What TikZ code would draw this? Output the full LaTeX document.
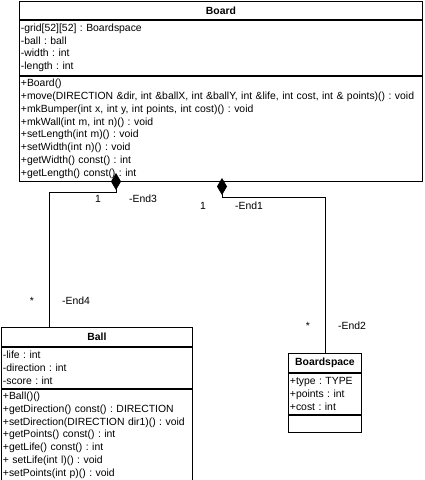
\documentclass[tikz,border=0pt]{standalone}
\usepackage{fontspec}
\setmainfont{Liberation Sans}
\usepackage{tikz}
\usetikzlibrary{arrows.meta, positioning}
\frenchspacing

\begin{document}
\begin{tikzpicture}[
	x=1pt, y=-1pt,
	node distance=0pt,
	font=\fontsize{10.4}{12.8}\selectfont,
	classtitle/.style={rectangle, draw, line width=0.9pt, anchor=north west, inner sep=0pt, font=\fontsize{10.4}{12.8}\selectfont\bfseries},
	classpart/.style={rectangle, draw, line width=0.9pt, align=left, inner xsep=1.2pt, inner ysep=0pt},
	label/.style={inner sep=0pt},
	comp/.style={-{Diamond[length=17pt, width=10pt]}, line width=0.8pt}
	]
	\useasboundingbox (0,0) rectangle (424,480);
	
	% Nodes
	\node (board) [classtitle, minimum width=403pt, minimum height=18pt] at (19,1) {Board};
	\node (boardattr) [classpart, minimum height=55pt, text width=400pt, below=of board] {-grid[52][52] : Boardspace\\-ball : ball\\-width : int\\-length : int};
	\node (boardops) [classpart, minimum height=105pt, text width=400pt, below=of boardattr] {+Board()\\+move(DIRECTION \&dir, int \&ballX, int \&ballY, int \&life, int cost, int \& points)() : void\\+mkBumper(int x, int y, int points, int cost)() : void\\+mkWall(int m, int n)() : void\\+setLength(int m)() : void\\+setWidth(int n)() : void\\+getWidth() const() : int\\+getLength() const() : int};
	
	\node (ball) [classtitle, minimum width=191pt, minimum height=19pt] at (1,327) {Ball};
	\node (ballattr) [classpart, minimum height=41pt, text width=188pt, below=of ball] {-life : int\\-direction : int\\-score : int};
	\node (ballops) [classpart, minimum height=92pt, text width=188pt, below=of ballattr] {+Ball()()\\+getDirection() const() : DIRECTION\\+setDirection(DIRECTION dir1)() : void\\+getPoints() const() : int\\+getLife() const() : int\\+ setLife(int l)() : void\\+setPoints(int p)() : void};
	
	\node (space) [classtitle, minimum width=73pt, minimum height=19pt] at (288,353) {Boardspace};
	\node (spaceattr) [classpart, minimum height=41pt, text width=70pt, below=of space] {+type : TYPE\\+points : int\\+cost : int};
	\node (spaceops) [classpart, minimum height=17pt, text width=70pt, below=of spaceattr] {};
	
	% Arrows
	\coordinate (end3) at (116,173);
	\coordinate (end1) at (222,178);
	\draw[comp] (ball.north -| 49,0) |- (116,192) -- (end3);
	\draw[comp] (space.north) |- (222,197) -- (end1);
	
	% Labels
	\node (one3) [label] at (98,199) {1};
	\node (lend3) [label, anchor=west] at (129,199) {-End3};
	\node (one1) [label] at (203,206) {1};
	\node (lend1) [label, anchor=west] at (235,206) {-End1};
	\node (star4) [label] at (32,301) {*};
	\node (lend4) [label, anchor=west] at (62,301) {-End4};
	\node (star2) [label] at (308,326) {*};
	\node (lend2) [label, anchor=west] at (338,326) {-End2};
	
\end{tikzpicture}
\end{document}
